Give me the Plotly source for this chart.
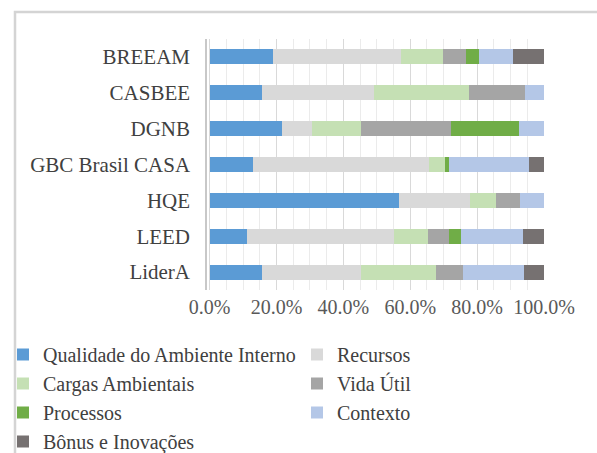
import plotly.graph_objects as go

categories = ["BREEAM", "CASBEE", "DGNB", "GBC Brasil CASA", "HQE", "LEED", "LiderA"]

series_names = ["Qualidade do Ambiente Interno", "Recursos", "Cargas Ambientais",
                "Vida Útil", "Processos", "Contexto", "Bônus e Inovações"]

qualidade = [18.9, 15.7, 21.7, 12.9, 56.7, 11.2, 15.5]
recursos = [38.3, 33.5, 9.0, 52.8, 21.2, 43.8, 29.7]
cargas = [12.7, 28.3, 14.5, 4.8, 7.6, 10.2, 22.5]
vida_util = [6.8, 16.7, 27.0, 0.0, 7.4, 6.3, 8.0]
processos = [3.8, 0.0, 20.2, 1.0, 0.0, 3.7, 0.0]
contexto = [10.2, 5.8, 7.6, 23.9, 7.1, 18.5, 18.2]
bonus = [9.3, 0.0, 0.0, 4.6, 0.0, 6.3, 6.1]

tick_values = [0, 20, 40, 60, 80, 100]
tick_labels = ["0.0%", "20.0%", "40.0%", "60.0%", "80.0%", "100.0%"]

colors = ["#5B9BD5", "#D9D9D9", "#C5E0B4", "#A5A5A5", "#70AD47", "#B4C7E7", "#767171"]
all_values = [qualidade, recursos, cargas, vida_util, processos, contexto, bonus]
# two legend columns, filled row by row
legend_ids = ["legend", "legend2", "legend", "legend2", "legend", "legend2", "legend"]

FONT = "Liberation Serif"

fig = go.Figure()
for name, vals, col, lg in zip(series_names, all_values, colors, legend_ids):
    fig.add_trace(go.Bar(
        y=categories, x=vals, name=name, orientation="h",
        marker=dict(color=col, line=dict(width=0)),
        legend=lg,
    ))

W, H = 597, 453
ml, mr, mt, mb = 207, 53, 39, 163
plot_w = W - ml - mr
plot_h = H - mt - mb


def px2paper_x(px):
    return (px - ml) / plot_w


def px2paper_y(py):
    return (H - mb - py) / plot_h


legend_font = dict(family=FONT, size=20, color="#404040")
fig.update_layout(
    width=W, height=H,
    margin=dict(l=ml, r=mr, t=mt, b=mb, autoexpand=False),
    barmode="stack", bargap=0.58,
    paper_bgcolor="white", plot_bgcolor="white",
    font=dict(family=FONT, color="#404040"),
    xaxis=dict(
        range=[-0.8, 100], tickvals=tick_values, ticktext=tick_labels,
        showgrid=True, gridcolor="#d9d9d9", gridwidth=1,
        minor=dict(dtick=5, showgrid=True, gridcolor="#ebebeb", gridwidth=1),
        zeroline=False, showline=False, ticks="",
        tickfont=dict(family=FONT, size=20, color="#595959"),
        ticklabelstandoff=3, automargin=False,
    ),
    yaxis=dict(
        categoryorder="array", categoryarray=categories, autorange="reversed",
        showline=True, linecolor="#c8c8c8", linewidth=1.5,
        showgrid=False, ticks="",
        tickfont=dict(family=FONT, size=21, color="#404040"),
        ticklabelstandoff=11, automargin=False,
    ),
    legend=dict(
        orientation="v", xref="paper", yref="container",
        x=px2paper_x(3), y=1 - 335 / H, xanchor="left", yanchor="top",
        font=legend_font, traceorder="normal", bgcolor="rgba(0,0,0,0)",
    ),
    legend2=dict(
        orientation="v", xref="paper", yref="container",
        x=px2paper_x(297), y=1 - 335 / H, xanchor="left", yanchor="top",
        font=legend_font, traceorder="normal", bgcolor="rgba(0,0,0,0)",
    ),
    showlegend=True,
)

# outer chart frame (light gray border, top and left visible)
fig.add_shape(type="rect", xref="paper", yref="paper",
              x0=px2paper_x(15), x1=px2paper_x(620),
              y0=px2paper_y(470), y1=px2paper_y(12),
              line=dict(color="#d4d4d4", width=2.5), fillcolor="rgba(0,0,0,0)",
              layer="above")

fig.write_html("out.html",
               config={"displayModeBar": False},
               post_script="document.body.style.margin='0px';")
